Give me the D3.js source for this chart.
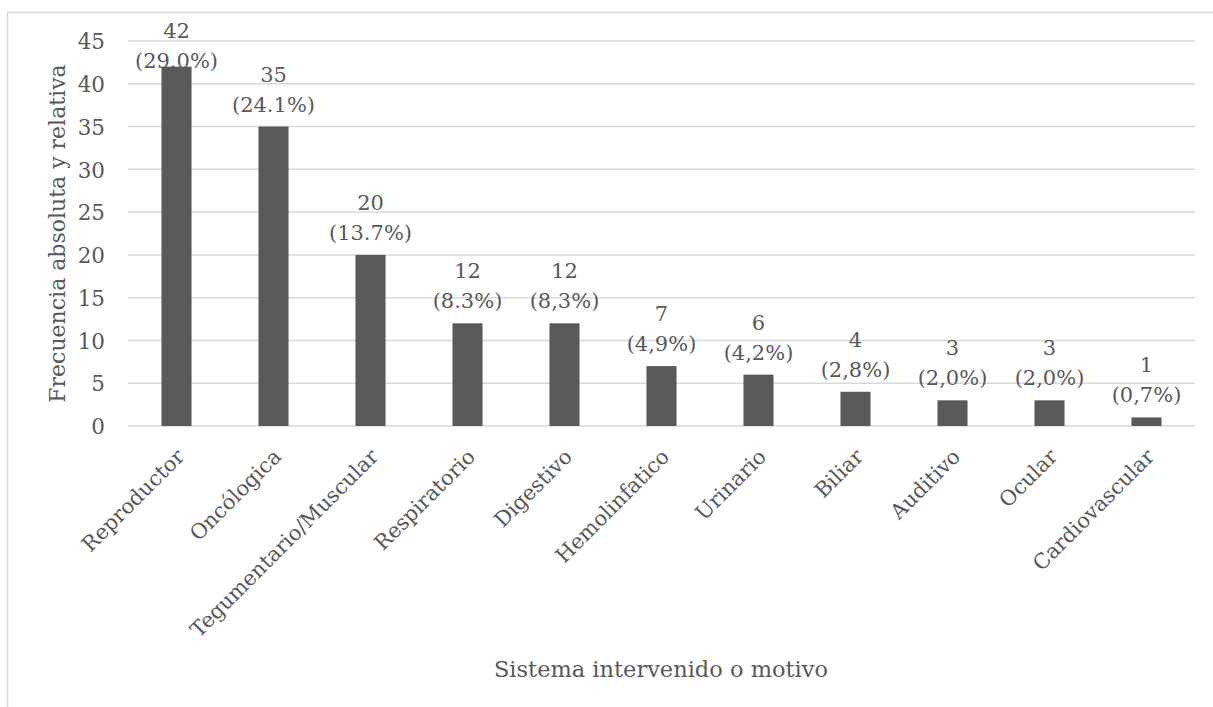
<!DOCTYPE html>
<html><head><meta charset="utf-8">
<script src="https://cdn.jsdelivr.net/npm/d3@7"></script>
<style>
body{margin:0;background:#fff;}
text{font-family:"DejaVu Serif",serif;fill:#595959;}
</style></head>
<body><svg id="c" width="1213" height="707"></svg>
<script>
const categories=["Reproductor","Oncólogica","Tegumentario/Muscular","Respiratorio","Digestivo","Hemolinfatico","Urinario","Biliar","Auditivo","Ocular","Cardiovascular"];
const values=[42,35,20,12,12,7,6,4,3,3,1];
const percentLabels=["(29.0%)","(24.1%)","(13.7%)","(8.3%)","(8,3%)","(4,9%)","(4,2%)","(2,8%)","(2,0%)","(2,0%)","(0,7%)"];
const yTicks=[0,5,10,15,20,25,30,35,40,45];

const svg=d3.select("#c");
svg.append("rect").attr("x",7.5).attr("y",12.5).attr("width",1220).attr("height",720)
  .attr("fill","#fff").attr("stroke","#d9d9d9").attr("stroke-width",1.5);

const pL=128,pR=1195,pT=41,pB=426;
const x=d3.scaleBand().domain(categories).range([pL,pR]).paddingInner(0.69).paddingOuter(0.345);
const y=d3.scaleLinear().domain([0,45]).range([pB,pT]);

svg.append("g").selectAll("line").data(yTicks).join("line")
  .attr("x1",pL).attr("x2",pR).attr("y1",d=>y(d)).attr("y2",d=>y(d))
  .attr("stroke","#d9d9d9").attr("stroke-width",1.5);

const yAxis=svg.append("g").attr("transform",`translate(105,0)`)
  .call(d3.axisLeft(y).tickValues(yTicks).tickSize(0).tickPadding(0));
yAxis.select(".domain").remove();
yAxis.selectAll("text").style("font-size","21.5px").style("font-family","DejaVu Serif").attr("fill","#595959").attr("dy","0.36em");

svg.append("g").selectAll("rect").data(values).join("rect")
  .attr("x",(d,i)=>x(categories[i])).attr("width",x.bandwidth())
  .attr("y",d=>y(d)).attr("height",d=>pB-y(d)).attr("fill","#595959");

const lab=svg.append("g").selectAll("text").data(values).join("text")
  .attr("text-anchor","middle").style("font-size","21px");
lab.each(function(d,i){
  const cx=x(categories[i])+x.bandwidth()/2;
  const base=Math.max(y(d)-15,68);
  const t=d3.select(this);
  t.append("tspan").attr("x",cx).attr("y",base-30).text(d);
  t.append("tspan").attr("x",cx).attr("y",base).text(percentLabels[i]);
});

svg.append("g").selectAll("text").data(categories).join("text")
  .attr("text-anchor","end").style("font-size","21px")
  .attr("transform",d=>`translate(${x(d)+x.bandwidth()/2+9},${pB+32}) rotate(-45)`)
  .text(d=>d);

svg.append("text").attr("text-anchor","middle").style("font-size","22px")
  .attr("transform",`translate(65,${(pT+pB)/2}) rotate(-90)`).text("Frecuencia absoluta y relativa");
svg.append("text").attr("text-anchor","middle").style("font-size","22.5px")
  .attr("x",661).attr("y",677).text("Sistema intervenido o motivo");
</script></body></html>
